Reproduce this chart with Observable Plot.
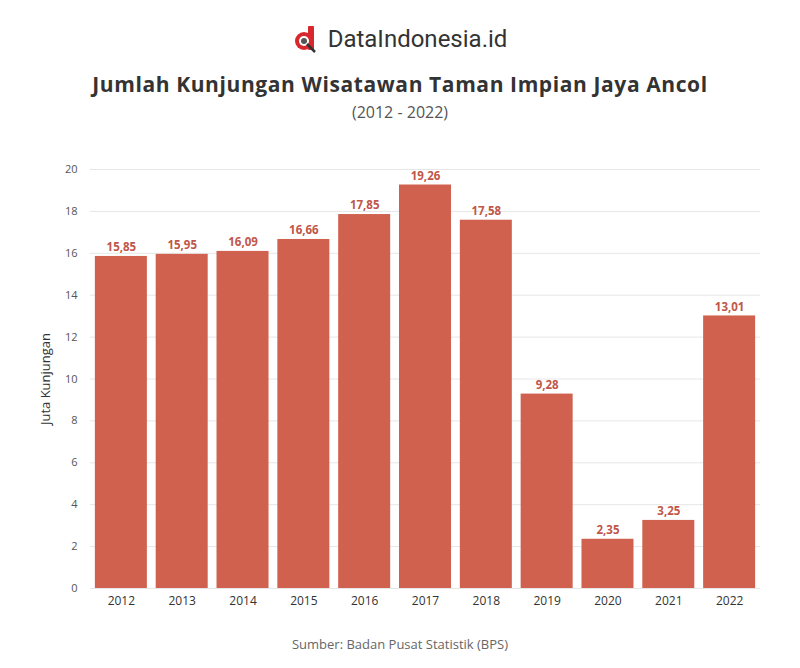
<!DOCTYPE html>
<html><head><meta charset="utf-8">
<script src="https://cdn.jsdelivr.net/npm/d3@7"></script>
<script src="https://cdn.jsdelivr.net/npm/@observablehq/plot@0.6"></script>
<style>
body{margin:0;background:#fff;font-family:"Open Sans",sans-serif;}
#wrap{width:800px;height:668px;position:relative;}
#brand{position:absolute;top:25px;left:0;width:800px;text-align:center;font-family:Roboto,sans-serif;font-size:24px;color:#333;}
#brand svg{vertical-align:-6px;margin-right:9px;}
#title{position:absolute;top:70px;left:0;width:800px;text-align:center;font-size:21px;font-weight:700;color:#333;letter-spacing:0.6px;}
#sub{position:absolute;top:101px;left:0;width:800px;text-align:center;font-size:16px;color:#555;}
#chart{position:absolute;top:150px;left:0;}
#cap{position:absolute;top:635px;left:0;width:800px;text-align:center;font-size:13px;color:#666;}
</style></head>
<body><div id="wrap">
<div id="brand"><svg width="26" height="28" viewBox="0 0 26 28"><rect x="15" y="1" width="6" height="24" rx="1" fill="#d9272e"/><circle cx="11" cy="16" r="9" fill="#d9272e"/><circle cx="11" cy="16" r="5" fill="#fff"/><circle cx="11" cy="16" r="3" fill="#555"/><line x1="14" y1="19" x2="22" y2="27" stroke="#333" stroke-width="2.5"/></svg>DataIndonesia.id</div>
<div id="title">Jumlah Kunjungan Wisatawan Taman Impian Jaya Ancol</div>
<div id="sub">(2012 - 2022)</div>
<div id="chart"></div>
<div id="cap">Sumber: Badan Pusat Statistik (BPS)</div>
</div>
<script>
const years = ["2012","2013","2014","2015","2016","2017","2018","2019","2020","2021","2022"];
const visitors = [15.85,15.95,16.09,16.66,17.85,19.26,17.58,9.28,2.35,3.25,13.01];
const yTicks = [0,2,4,6,8,10,12,14,16,18,20];
const data = years.map((y,i)=>({year:y, value:visitors[i]}));
const fmt = v => v.toFixed(2).replace(".", ",");
const chart = Plot.plot({
  width: 800, height: 470,
  marginLeft: 90, marginRight: 40, marginTop: 19, marginBottom: 32,
  style: {fontFamily: "'Open Sans', sans-serif", fontSize: "11px", color: "#444", background: "#fff"},
  x: {domain: years, paddingInner: 0.145, paddingOuter: 0.08, round: false, label: null},
  y: {domain: [0,20], ticks: yTicks, label: null},
  marks: [
    Plot.gridY(yTicks, {stroke: "#e6e6e6", strokeOpacity: 1}),
    Plot.barY(data, {x: "year", y: "value", fill: "#d0614f"}),
    Plot.text(data, {x: "year", y: "value", text: d => fmt(d.value), dy: -9, fill: "#c0564a", fontWeight: "bold", fontSize: 11.5}),
    Plot.axisX({tickSize: 0, tickPadding: 8, fontSize: 12, fill: "#333"}),
    Plot.axisY(yTicks, {tickSize: 0, tickPadding: 13, fontSize: 11, fill: "#555"}),
    Plot.text(["Juta Kunjungan"], {frameAnchor: "left", dx: -45, rotate: -90, fontSize: 13, fill: "#333", textAnchor: "middle"})
  ]
});
document.getElementById("chart").appendChild(chart);
</script>
</body></html>
